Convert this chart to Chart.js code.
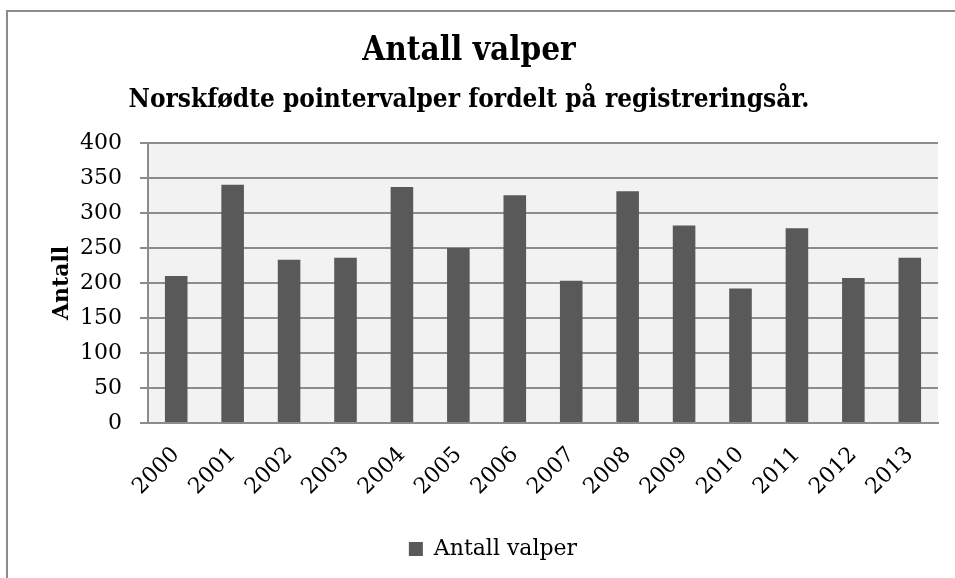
<!DOCTYPE html>
<html>
<head>
<meta charset="utf-8">
<script src="https://cdn.jsdelivr.net/npm/chart.js@4.4.1/dist/chart.umd.min.js"></script>
<style>
    html, body { margin: 0; padding: 0; background: #ffffff; overflow: hidden; }
    #wrap { position: relative; width: 955px; height: 578px; }
</style>
</head>
<body>
<div id="wrap"><canvas id="valpChart"></canvas></div>
<script>
// Data
const years = ['2000', '2001', '2002', '2003', '2004', '2005', '2006',
               '2007', '2008', '2009', '2010', '2011', '2012', '2013'];
const puppies = [210, 340, 233, 236, 337, 250, 325, 203, 331, 282, 192, 278, 207, 236];
const yTicks = [0, 50, 100, 150, 200, 250, 300, 350, 400];

const SERIF = "'DejaVu Serif', 'Liberation Serif', serif";
const SERIF_COND = "'DejaVu Serif Condensed', 'DejaVu Serif', serif";

// grey plot background + the outer frame (only top and left edges are visible)
const plotBackground = {
    id: 'plotBackground',
    beforeDraw(chart) {
        const { ctx, chartArea } = chart;
        ctx.save();
        ctx.strokeStyle = '#8c8c8c';
        ctx.lineWidth = 2;
        ctx.beginPath();
        ctx.moveTo(7, chart.height + 5);
        ctx.lineTo(7, 11);
        ctx.lineTo(chart.width + 5, 11);
        ctx.stroke();
        ctx.fillStyle = '#f2f2f2';
        ctx.fillRect(chartArea.left, chartArea.top,
                     chartArea.right - chartArea.left, chartArea.bottom - chartArea.top);
        ctx.restore();
    }
};

// nudge the legend to the right, it sits a bit right of centre in the original
const legendNudge = {
    id: 'legendNudge',
    afterLayout(chart) {
        chart.legend.left += 24;
        chart.legend.right += 24;
    }
};

document.addEventListener('DOMContentLoaded', () => {
    const ctx = document.getElementById('valpChart').getContext('2d');

    new Chart(ctx, {
        type: 'bar',
        data: {
            labels: years,
            datasets: [{
                label: 'Antall valper',
                data: puppies,
                backgroundColor: '#595959',
                borderWidth: 0,
                barPercentage: 0.4,
                categoryPercentage: 1.0
            }]
        },
        options: {
            responsive: true,
            maintainAspectRatio: false,
            animation: false,
            layout: {
                padding: { top: 0, left: 0, right: 17, bottom: 8 }
            },
            plugins: {
                title: {
                    display: true,
                    text: 'Antall valper',
                    color: '#000000',
                    font: { family: SERIF_COND, size: 33, weight: 'bold' },
                    padding: { top: 32, bottom: 0 }
                },
                subtitle: {
                    display: true,
                    text: 'Norskfødte pointervalper fordelt på registreringsår.',
                    color: '#000000',
                    font: { family: SERIF_COND, size: 26, weight: 'bold' },
                    padding: { top: 13, bottom: 27 }
                },
                legend: {
                    position: 'bottom',
                    labels: {
                        color: '#000000',
                        font: { family: SERIF, size: 22 },
                        boxWidth: 14,
                        boxHeight: 14,
                        padding: 10
                    }
                },
                tooltip: { enabled: false }
            },
            scales: {
                x: {
                    grid: { display: false },
                    border: { display: true, color: '#8c8c8c', width: 2 },
                    ticks: {
                        color: '#000000',
                        font: { family: SERIF, size: 22 },
                        autoSkip: false,
                        minRotation: 45,
                        maxRotation: 45,
                        padding: 11
                    },
                    afterFit(scale) {
                        scale.height = 105;
                    }
                },
                y: {
                    min: 0,
                    max: 400,
                    afterBuildTicks(scale) {
                        scale.ticks = yTicks.map(v => ({ value: v }));
                    },
                    grid: {
                        color: '#8c8c8c',
                        lineWidth: 2,
                        tickLength: 8
                    },
                    border: { display: true, color: '#8c8c8c', width: 2 },
                    ticks: {
                        color: '#000000',
                        font: { family: SERIF, size: 22 },
                        padding: 18
                    },
                    title: {
                        display: true,
                        text: 'Antall',
                        color: '#000000',
                        font: { family: SERIF, size: 22, weight: 'bold' },
                        padding: { top: 49, bottom: 0 }
                    },
                    afterFit(scale) {
                        scale.width = 148;
                    }
                }
            }
        },
        plugins: [plotBackground, legendNudge]
    });
});
</script>
</body>
</html>
